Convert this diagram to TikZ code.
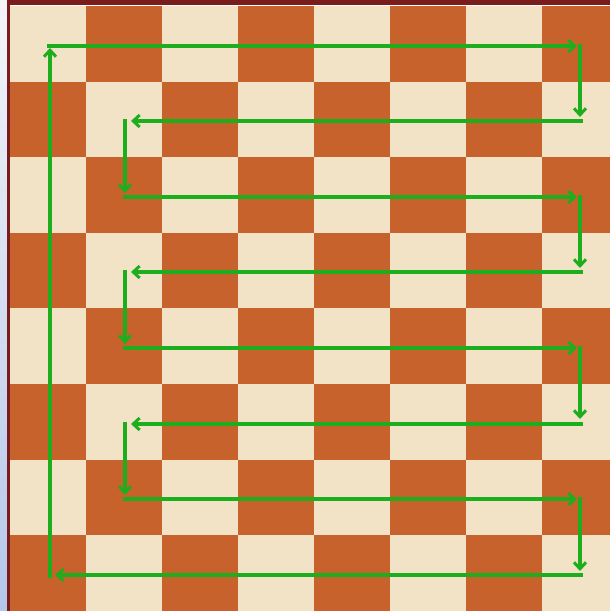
\documentclass[tikz,border=0pt]{standalone}
\usetikzlibrary{arrows.meta}
\definecolor{lightsq}{HTML}{F2E2C6}
\definecolor{darksq}{HTML}{C8622C}
\definecolor{frame}{HTML}{7A1C1C}
\definecolor{path}{HTML}{1CAE1C}
\definecolor{bgtop}{HTML}{F4F5F9}
\definecolor{bgbot}{HTML}{B4C6EA}
\tikzset{
  route/.style={draw=path, line width=3.2pt,
    -{Straight Barb[length=6.5pt,width=12pt,line width=3pt]}},
}
\begin{document}
\begin{tikzpicture}[x=1pt,y=-1pt]
\useasboundingbox (0,0) rectangle (610,611);
% left background strip
\shade[top color=bgtop,bottom color=bgbot] (0,0) rectangle (10,611);
% frame
\fill[frame] (7,0) rectangle (610,5);
\fill[frame] (7,0) rectangle (10,611);
% squares
\foreach \i in {0,...,7}{
  \foreach \j in {0,...,7}{
    \pgfmathtruncatemacro{\p}{mod(\i+\j,2)}
    \ifnum\p=0
      \fill[lightsq] ({10+76*\i},{6+75.6*\j}) rectangle ({10+76*(\i+1)},{6+75.6*(\j+1)});
    \else
      \fill[darksq] ({10+76*\i},{6+75.6*\j}) rectangle ({10+76*(\i+1)},{6+75.6*(\j+1)});
    \fi
  }
}
% route coordinates
\coordinate (s0) at (47,46);
\coordinate (e1) at (577,46);
\coordinate (d1a) at (580,44);  \coordinate (d1b) at (580,117);
\coordinate (r2a) at (583,121); \coordinate (r2b) at (131,121);
\coordinate (d2a) at (125,119); \coordinate (d2b) at (125,193);
\coordinate (r3a) at (123,197); \coordinate (r3b) at (577,197);
\coordinate (d3a) at (580,195); \coordinate (d3b) at (580,268);
\coordinate (r4a) at (583,272); \coordinate (r4b) at (131,272);
\coordinate (d4a) at (125,270); \coordinate (d4b) at (125,344);
\coordinate (r5a) at (123,348); \coordinate (r5b) at (577,348);
\coordinate (d5a) at (580,346); \coordinate (d5b) at (580,419);
\coordinate (r6a) at (583,424); \coordinate (r6b) at (131,424);
\coordinate (d6a) at (125,422); \coordinate (d6b) at (125,495);
\coordinate (r7a) at (123,499); \coordinate (r7b) at (577,499);
\coordinate (d7a) at (580,497); \coordinate (d7b) at (580,571);
\coordinate (r8a) at (583,575); \coordinate (r8b) at (55,575);
\coordinate (u0a) at (50,578); \coordinate (u0b) at (50,48);
% route
\draw[route] (s0) -- (e1);
\draw[route] (d1a) -- (d1b);
\draw[route] (r2a) -- (r2b);
\draw[route] (d2a) -- (d2b);
\draw[route] (r3a) -- (r3b);
\draw[route] (d3a) -- (d3b);
\draw[route] (r4a) -- (r4b);
\draw[route] (d4a) -- (d4b);
\draw[route] (r5a) -- (r5b);
\draw[route] (d5a) -- (d5b);
\draw[route] (r6a) -- (r6b);
\draw[route] (d6a) -- (d6b);
\draw[route] (r7a) -- (r7b);
\draw[route] (d7a) -- (d7b);
\draw[route] (r8a) -- (r8b);
\draw[route] (u0a) -- (u0b);
\end{tikzpicture}
\end{document}
